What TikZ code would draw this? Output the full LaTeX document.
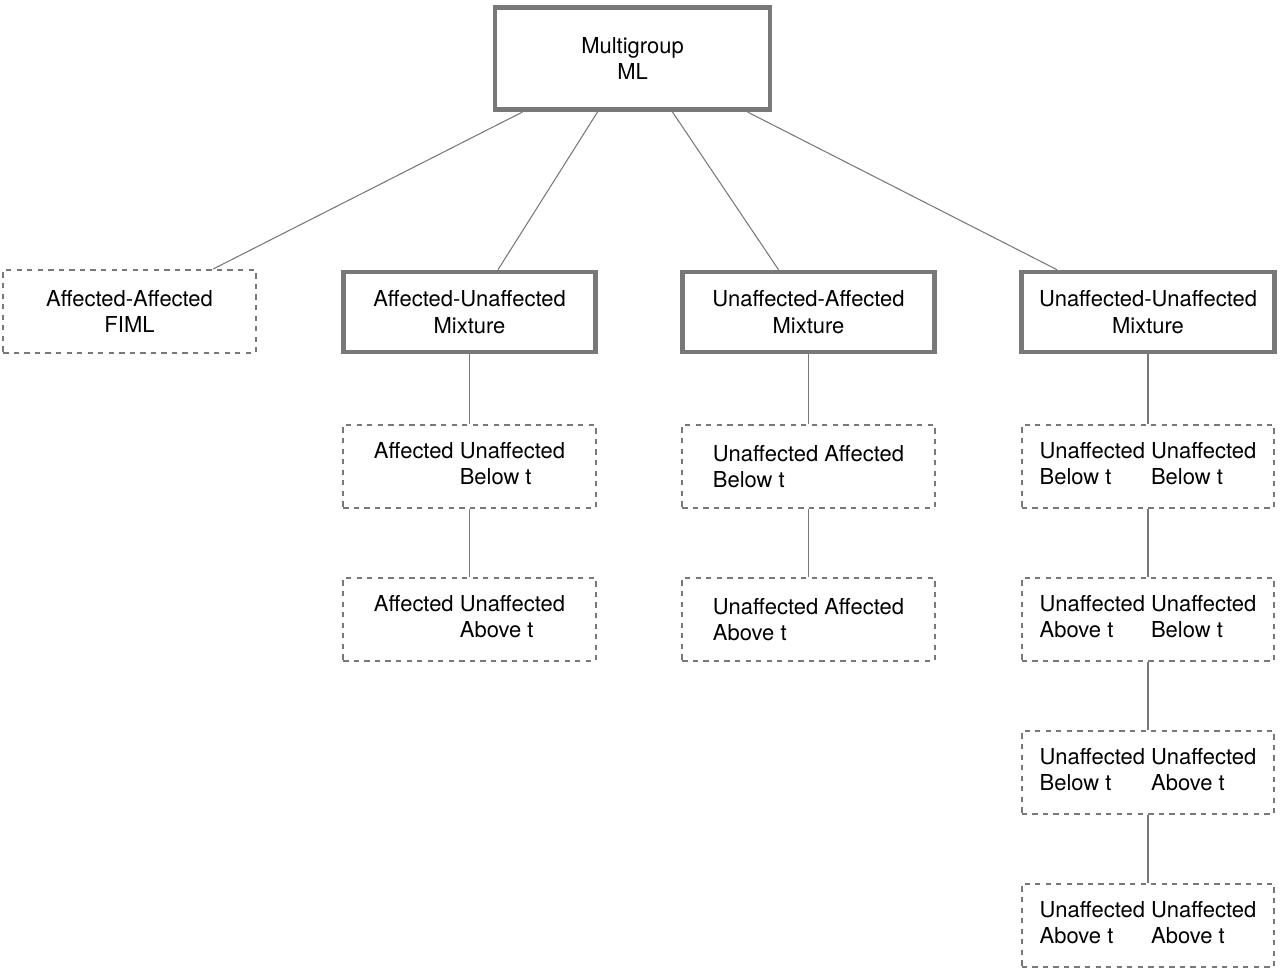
\documentclass[tikz,border=0pt]{standalone}
\usepackage{fontspec}
\setmainfont{TeX Gyre Heros}
\usetikzlibrary{positioning}
\definecolor{edge}{RGB}{120,120,120}
\tikzset{
    solidbox/.style={rectangle, draw=edge, line width=2.6pt, minimum width=5.05cm, minimum height=1.6cm, text centered, align=center},
    dashbox/.style={rectangle, draw=edge, dashed, line width=1pt, minimum width=5.05cm, minimum height=1.66cm, text centered, align=center},
    link/.style={draw=edge, line width=0.6pt}
}
\newcommand{\pair}[4]{\begin{tabular}{@{}l@{ }l@{}}#1 & #2\\ #3 & #4\end{tabular}}
\begin{document}
\begin{tikzpicture}[font=\fontsize{12.5}{15}\selectfont]
    \useasboundingbox (0,0) rectangle (25.6,19.44);
    % Root
    \node[solidbox, minimum width=5.5cm, minimum height=2.05cm] (ml) at (12.65,18.27) {Multigroup\\ML};

    % Second row
    \node[dashbox] (aa) at (2.59,13.21) {Affected-Affected\\FIML};
    \node[solidbox] (au) at (9.39,13.2) {Affected-Unaffected\\Mixture};
    \node[solidbox] (ua) at (16.17,13.2) {Unaffected-Affected\\Mixture};
    \node[solidbox] (uu) at (22.96,13.2) {Unaffected-Unaffected\\Mixture};

    % Affected-Unaffected branch
    \node[dashbox] (au_below) at (9.39,10.11) {\pair{Affected}{Unaffected}{}{Below t}};
    \node[dashbox] (au_above) at (9.39,7.05) {\pair{Affected}{Unaffected}{}{Above t}};

    % Unaffected-Affected branch
    \node[dashbox, align=left] (ua_below) at (16.17,10.11) {Unaffected Affected\\ Below t};
    \node[dashbox, align=left] (ua_above) at (16.17,7.05) {Unaffected Affected\\Above t};

    % Unaffected-Unaffected branch
    \node[dashbox] (uu_bb) at (22.96,10.11) {\pair{Unaffected}{Unaffected}{Below t}{Below t}};
    \node[dashbox] (uu_ab) at (22.96,7.05) {\pair{Unaffected}{Unaffected}{Above t}{Below t}};
    \node[dashbox] (uu_ba) at (22.96,3.99) {\pair{Unaffected}{Unaffected}{Below t}{Above t}};
    \node[dashbox] (uu_aa) at (22.96,0.93) {\pair{Unaffected}{Unaffected}{Above t}{Above t}};

    % Links
    \draw[link] ([xshift=-2.2cm]ml.south) -- ([xshift=1.67cm]aa.north);
    \draw[link] ([xshift=-0.7cm]ml.south) -- ([xshift=0.57cm]au.north);
    \draw[link] ([xshift=0.8cm]ml.south) -- ([xshift=-0.6cm]ua.north);
    \draw[link] ([xshift=2.3cm]ml.south) -- ([xshift=-1.82cm]uu.north);
    \draw[link] (au) -- (au_below);
    \draw[link] (au_below) -- (au_above);
    \draw[link] (ua) -- (ua_below);
    \draw[link] (ua_below) -- (ua_above);
    \draw[link] (uu) -- (uu_bb);
    \draw[link] (uu_bb) -- (uu_ab);
    \draw[link] (uu_ab) -- (uu_ba);
    \draw[link] (uu_ba) -- (uu_aa);
\end{tikzpicture}
\end{document}
